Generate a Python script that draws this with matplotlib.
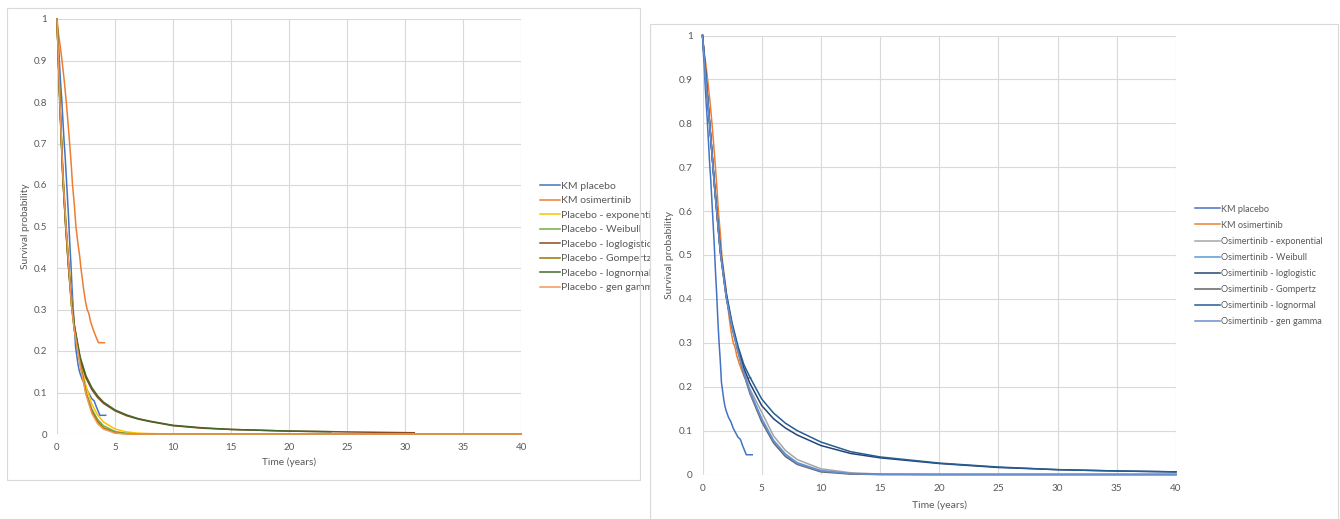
import matplotlib
matplotlib.use("Agg")
import matplotlib.pyplot as plt
from matplotlib.patches import Rectangle

plt.rcParams['font.family'] = ['Lato', 'DejaVu Sans']

# ---- data ----
X_TICKS = [0, 5, 10, 15, 20, 25, 30, 35, 40]
X_LABELS = ['0', '5', '10', '15', '20', '25', '30', '35', '40']
Y_TICKS = [0, 0.1, 0.2, 0.3, 0.4, 0.5, 0.6, 0.7, 0.8, 0.9, 1]
Y_LABELS = ['0', '0.1', '0.2', '0.3', '0.4', '0.5', '0.6', '0.7', '0.8', '0.9', '1']

# Kaplan-Meier curves
km_placebo_t = [0, 0.05, 0.1, 0.15, 0.2, 0.3, 0.4, 0.5, 0.6, 0.7, 0.8, 0.9, 1.0, 1.1, 1.2,
                1.3, 1.4, 1.5, 1.6, 1.7, 1.8, 1.9, 2.0, 2.2, 2.4, 2.6, 2.8, 3.0, 3.2, 3.4,
                3.55, 3.7, 4.2]
km_placebo_s = [1, 0.97, 0.95, 0.93, 0.90, 0.85, 0.81, 0.76, 0.71, 0.67, 0.62, 0.57, 0.52,
                0.46, 0.41, 0.35, 0.30, 0.26, 0.21, 0.19, 0.17, 0.155, 0.145, 0.13, 0.12,
                0.105, 0.095, 0.085, 0.08, 0.065, 0.055, 0.045, 0.045]
km_osi_t = [0, 0.1, 0.2, 0.3, 0.43, 0.55, 0.63, 0.8, 0.95, 1.09, 1.2, 1.34, 1.5, 1.63, 1.8,
            1.95, 2.06, 2.2, 2.29, 2.45, 2.6, 2.75, 2.9, 3.14, 3.35, 3.57, 4.09]
km_osi_s = [1, 0.97, 0.95, 0.93, 0.9, 0.87, 0.85, 0.8, 0.75, 0.7, 0.66, 0.6, 0.55, 0.5, 0.46,
            0.43, 0.4, 0.37, 0.35, 0.32, 0.3, 0.29, 0.27, 0.25, 0.235, 0.22, 0.22]

# placebo models (left chart)
pl_t = [0, 0.25, 0.5, 0.75, 1, 1.25, 1.5, 2, 2.5, 3, 3.5, 4, 5, 6, 7, 8, 10, 12.5, 15, 20,
        25, 30, 35, 40]
pl_exp = [1, 0.80, 0.64, 0.52, 0.42, 0.33, 0.26, 0.18, 0.115, 0.072, 0.046, 0.029, 0.012,
          0.005, 0.002, 0.001, 0, 0, 0, 0, 0, 0, 0, 0]
pl_weib = [1, 0.79, 0.62, 0.50, 0.40, 0.31, 0.25, 0.17, 0.10, 0.06, 0.035, 0.02, 0.006,
           0.0015, 0, 0, 0, 0, 0, 0, 0, 0, 0, 0]
pl_gomp = [1, 0.79, 0.62, 0.50, 0.40, 0.31, 0.25, 0.17, 0.098, 0.055, 0.03, 0.015, 0.003,
           0.0005, 0, 0, 0, 0, 0, 0, 0, 0, 0, 0]
pl_gamma = [1, 0.80, 0.63, 0.51, 0.41, 0.31, 0.25, 0.165, 0.095, 0.05, 0.025, 0.012, 0.002,
            0, 0, 0, 0, 0, 0, 0, 0, 0, 0, 0]
pl_lnorm_t = [0, 0.25, 0.5, 0.75, 1, 1.25, 1.5, 2, 2.5, 3, 3.5, 4, 5, 6, 7, 8, 10, 12.5, 15,
              20, 23.6]
pl_lnorm = [1, 0.80, 0.63, 0.51, 0.41, 0.32, 0.26, 0.185, 0.14, 0.112, 0.092, 0.077, 0.058,
            0.046, 0.037, 0.031, 0.021, 0.015, 0.011, 0.007, 0.0055]
pl_llog_t = [0, 0.25, 0.5, 0.75, 1, 1.25, 1.5, 2, 2.5, 3, 3.5, 4, 5, 6, 7, 8, 10, 12.5, 15,
             20, 25, 30.8]
pl_llog = [1, 0.80, 0.62, 0.50, 0.40, 0.32, 0.26, 0.18, 0.135, 0.107, 0.088, 0.074, 0.056,
           0.044, 0.036, 0.03, 0.02, 0.014, 0.011, 0.007, 0.005, 0.003]

# osimertinib models (right chart)
os_t = [0, 0.25, 0.5, 0.75, 1, 1.5, 2, 2.5, 3, 3.5, 4, 5, 6, 7, 8, 10, 12.5, 15, 20, 25, 30,
        35, 40]
os_exp = [1, 0.91, 0.83, 0.745, 0.66, 0.505, 0.405, 0.34, 0.285, 0.235, 0.195, 0.142, 0.088,
          0.055, 0.034, 0.013, 0.004, 0.001, 0, 0, 0, 0, 0]
os_weib = [1, 0.92, 0.835, 0.75, 0.665, 0.51, 0.405, 0.335, 0.28, 0.23, 0.19, 0.128, 0.078,
           0.047, 0.027, 0.009, 0.002, 0.0005, 0, 0, 0, 0, 0]
os_llog = [1, 0.92, 0.835, 0.75, 0.66, 0.51, 0.41, 0.34, 0.287, 0.242, 0.208, 0.157, 0.127,
           0.106, 0.09, 0.066, 0.048, 0.038, 0.025, 0.016, 0.011, 0.008, 0.006]
os_gomp = [1, 0.92, 0.835, 0.75, 0.665, 0.51, 0.405, 0.335, 0.28, 0.228, 0.185, 0.12, 0.072,
           0.041, 0.023, 0.006, 0.001, 0, 0, 0, 0, 0, 0]
os_lnorm = [1, 0.92, 0.835, 0.75, 0.665, 0.515, 0.415, 0.345, 0.292, 0.25, 0.222, 0.172, 0.14,
            0.117, 0.1, 0.074, 0.052, 0.04, 0.026, 0.017, 0.011, 0.008, 0.006]
os_gamma = [1, 0.91, 0.83, 0.75, 0.66, 0.51, 0.405, 0.335, 0.28, 0.23, 0.188, 0.125, 0.076,
            0.045, 0.025, 0.008, 0.002, 0, 0, 0, 0, 0, 0]

left_labels = ['KM placebo', 'KM osimertinib', 'Placebo - exponential', 'Placebo - Weibull',
               'Placebo - loglogistic', 'Placebo - Gompertz', 'Placebo - lognormal',
               'Placebo - gen gamma']
right_labels = ['KM placebo', 'KM osimertinib', 'Osimertinib - exponential',
                'Osimertinib - Weibull', 'Osimertinib - loglogistic', 'Osimertinib - Gompertz',
                'Osimertinib - lognormal', 'Osimertinib - gen gamma']

left_colors = ['#4472C4', '#ED7D31', '#FFC000', '#70AD47', '#8B4A1C', '#997300', '#43682B',
               '#F1975A']
right_colors = ['#4472C4', '#ED7D31', '#A5A5A5', '#5B9BD5', '#264478', '#636363', '#255E91',
                '#698ED0']

TXT = '#595959'
GRID = '#D9D9D9'
W, H = 1340, 519


def fig_rect(x0, y0, x1, y1):
    # pixel box (top-left origin) -> figure fraction rect
    return [x0 / W, 1 - y1 / H, (x1 - x0) / W, (y1 - y0) / H]


def style_axes(ax, label_size):
    ax.set_xlim(0, 40)
    ax.set_ylim(0, 1)
    ax.set_xticks(X_TICKS)
    ax.set_xticklabels(X_LABELS)
    ax.set_yticks(Y_TICKS)
    ax.set_yticklabels(Y_LABELS)
    for s in ax.spines.values():
        s.set_visible(False)
    ax.grid(True, color=GRID, lw=0.8)
    ax.set_axisbelow(True)
    ax.tick_params(length=0, labelsize=label_size, colors=TXT)
    ax.tick_params(axis='y', pad=7)
    ax.tick_params(axis='x', pad=6.5)
    ax.set_xlabel('Time (years)', fontsize=label_size + 0.3, color=TXT)
    ax.set_ylabel('Survival probability', fontsize=label_size + 0.3, color=TXT)
    ax.xaxis.label.set_va('center')
    ax.yaxis.label.set_va('center')


fig = plt.figure(figsize=(W / 100, H / 100), dpi=100)

# ---- left chart (placebo) ----
axl = fig.add_axes(fig_rect(57, 19, 521, 434), zorder=0)
series_l = [(km_placebo_t, km_placebo_s), (km_osi_t, km_osi_s), (pl_t, pl_exp),
            (pl_t, pl_weib), (pl_llog_t, pl_llog), (pl_t, pl_gomp),
            (pl_lnorm_t, pl_lnorm), (pl_t, pl_gamma)]
for (t, s), c, lab in zip(series_l, left_colors, left_labels):
    axl.plot(t, s, color=c, lw=1.1, label=lab, clip_on=False)
style_axes(axl, 7)
axl.xaxis.set_label_coords((57 + 521) / 2 / W, 1 - 462.5 / H, transform=fig.transFigure)
axl.yaxis.set_label_coords(26 / W, 1 - 226.5 / H, transform=fig.transFigure)
axl.legend(loc='center left', bbox_to_anchor=(540 / W, 1 - 237 / H),
           bbox_transform=fig.transFigure, frameon=False, fontsize=7.5, labelcolor=TXT,
           handlelength=1.9, handletextpad=0.1, labelspacing=0.5, borderpad=0,
           borderaxespad=0)

# frame of left chart
fig.patches.append(Rectangle((7 / W, 1 - 480 / H), 633 / W, 472 / H, transform=fig.transFigure,
                             facecolor='none', edgecolor=GRID, lw=0.8, zorder=0.2))
# frame of right chart (white, sits on top of the left legend overflow)
fig.patches.append(Rectangle((650 / W, 1 - 540 / H), 688 / W, 516 / H, transform=fig.transFigure,
                             facecolor='white', edgecolor=GRID, lw=0.8, zorder=0.5))

# ---- right chart (osimertinib) ----
axr = fig.add_axes(fig_rect(702.5, 35.5, 1176, 474.5), zorder=1)
series_r = [(km_placebo_t, km_placebo_s), (km_osi_t, km_osi_s), (os_t, os_exp),
            (os_t, os_weib), (os_t, os_llog), (os_t, os_gomp), (os_t, os_lnorm),
            (os_t, os_gamma)]
for (t, s), c, lab in zip(series_r, right_colors, right_labels):
    axr.plot(t, s, color=c, lw=1.1, label=lab, clip_on=False)
style_axes(axr, 7.2)
axr.xaxis.set_label_coords((702.5 + 1176) / 2 / W, 1 - 505.5 / H, transform=fig.transFigure)
axr.yaxis.set_label_coords(670 / W, 1 - 255 / H, transform=fig.transFigure)
axr.legend(loc='center left', bbox_to_anchor=(1195 / W, 1 - 265.3 / H),
           bbox_transform=fig.transFigure, frameon=False, fontsize=6.6, labelcolor=TXT,
           handlelength=2.7, handletextpad=0.1, labelspacing=0.77, borderpad=0,
           borderaxespad=0)

fig.savefig('out.png', dpi=100, facecolor='white')
